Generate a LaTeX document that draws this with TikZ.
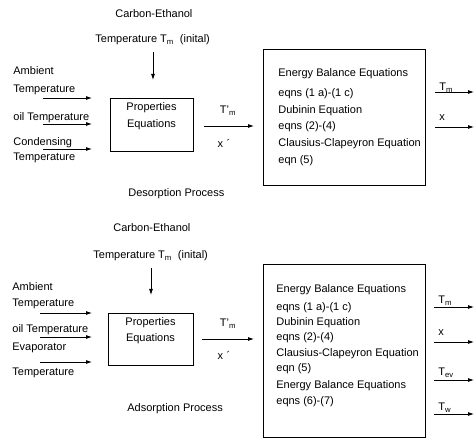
\documentclass[tikz,border=0pt]{standalone}
\usepackage{fontspec}
\setmainfont{Liberation Sans}
\usetikzlibrary{arrows.meta}

\begin{document}
\begin{tikzpicture}[x=1pt,y=-1pt,font=\fontsize{11}{13}\selectfont,line width=.8pt,
 >={Latex[length=6pt,width=4pt]},
 txt/.style={inner sep=0pt,anchor=base west},
 box/.style={draw,inner sep=0pt,anchor=north west}]
 \useasboundingbox (0,0) rectangle (475,438);
 \coordinate (rim) at (474,0);
 % desorption process
 \node[txt] (ce1) at (115,18) {Carbon-Ethanol};
 \node[txt] (tm1) at (95,43) {Temperature T\textsubscript{m}\ \ (inital)};
 \node[box,minimum width=83pt,minimum height=53pt] (pr1) at (110,98) {};
 \node[inner sep=0pt,anchor=base] (pt1) at (151.5,111) {Properties};
 \node[inner sep=0pt,anchor=base] (pq1) at (151.5,128) {Equations};
 \draw[->] ([yshift=-6pt]tm1.south -| 153,0) -- ([yshift=18pt]pr1.north -| 153,0);
 \foreach \yy/\tx [count=\i] in {75/Ambient,93/Temperature,121/oil Temperature,146/Condensing,161/Temperature}
  \node[txt] (l1\i) at (13,\yy) {\tx};
 \foreach \yy [count=\i] in {98,124,149}{\coordinate (in1\i) at (43,\yy);
  \draw[->,shorten >=18pt] (in1\i) -- (in1\i -| pr1.west);}
 \node[box,minimum width=162pt,minimum height=136pt] (eb1) at (263,49) {};
 \foreach \yy/\tx [count=\i] in {77/Energy Balance Equations,97/eqns (1 a)-(1 c),114/Dubinin Equation,130/eqns (2)-(4),147/Clausius-Clapeyron Equation,164/eqn (5)}
  \node[txt] (e1\i) at (278,\yy) {\tx};
 \coordinate (m1) at (204,126);
 \draw[->,shorten >=9pt] (m1) -- (m1 -| eb1.west);
 \node[inner sep=0pt,anchor=base] (tp1) at (228,114) {T'\textsubscript{m}};
 \node[inner sep=0pt,anchor=base] (xp1) at (224,148) {x\,\,´};
 \foreach \yy/\tx/\up [count=\i] in {92/T\textsubscript{m}/1,127/x/6}{\coordinate (o1\i) at (435,\yy);
  \draw[->] (o1\i) -- (o1\i -| rim);
  \node[txt] (ol1\i) at ([xshift=4pt,yshift=\up pt]o1\i) {\tx};}
 \node[txt] (dp) at (128,197) {Desorption Process};
 % adsorption process
 \node[txt] (ce2) at (113,232) {Carbon-Ethanol};
 \node[txt] (tm2) at (93,259) {Temperature T\textsubscript{m}\ \ (inital)};
 \node[box,minimum width=85pt,minimum height=52pt] (pr2) at (108,313) {};
 \node[inner sep=0pt,anchor=base] (pt2) at (150.5,326) {Properties};
 \node[inner sep=0pt,anchor=base] (pq2) at (150.5,342) {Equations};
 \draw[->] ([yshift=-6pt]tm2.south -| 151,0) -- ([yshift=18pt]pr2.north -| 151,0);
 \foreach \yy/\tx [count=\i] in {291/Ambient,307/Temperature,333/oil Temperature,351/Evaporator,376/Temperature}
  \node[txt] (l2\i) at (12,\yy) {\tx};
 \foreach \yy [count=\i] in {313,337,362}{\coordinate (in2\i) at (40,\yy);
  \draw[->,shorten >=16pt] (in2\i) -- (in2\i -| pr2.west);}
 \node[box,minimum width=162pt,minimum height=173pt] (eb2) at (263,264) {};
 \foreach \yy/\tx [count=\i] in {293/Energy Balance Equations,311/eqns (1 a)-(1 c),326/Dubinin Equation,341/eqns (2)-(4),357/Clausius-Clapeyron Equation,372/eqn (5),389/Energy Balance Equations,405/eqns (6)-(7)}
  \node[txt] (e2\i) at (276,\yy) {\tx};
 \coordinate (m2) at (202,339);
 \draw[->,shorten >=9pt] (m2) -- (m2 -| eb2.west);
 \node[inner sep=0pt,anchor=base] (tp2) at (228,327) {T'\textsubscript{m}};
 \node[inner sep=0pt,anchor=base] (xp2) at (224,360) {x\,\,´};
 \foreach \yy/\tx/\up [count=\i] in {307/T\textsubscript{m}/3,342/x/6,380/T\textsubscript{ev}/4,414/T\textsubscript{w}/3}{\coordinate (o2\i) at (434,\yy);
  \draw[->] (o2\i) -- (o2\i -| rim);
  \node[txt] (ol2\i) at ([xshift=4pt,yshift=\up pt]o2\i) {\tx};}
 \node[txt] (ap) at (127,412) {Adsorption Process};
\end{tikzpicture}
\end{document}
